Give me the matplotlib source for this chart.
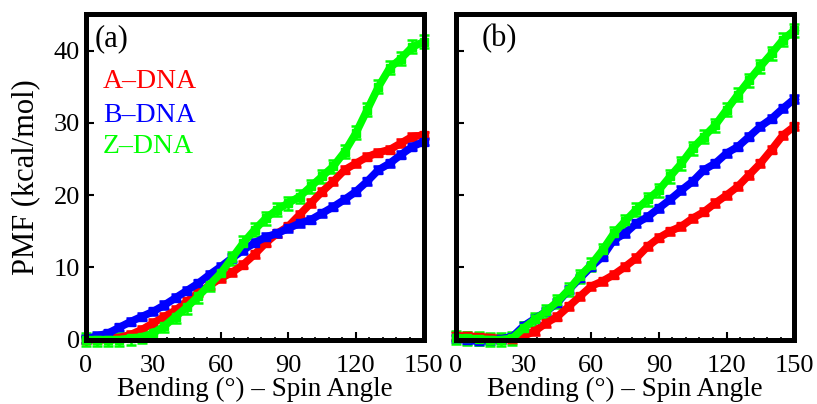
import matplotlib.pyplot as plt
from matplotlib.ticker import MultipleLocator

plt.rcParams['font.family'] = ['Liberation Serif', 'DejaVu Serif']

# bending angle (deg), sampled every 5 degrees
angle = [0, 5, 10, 15, 20, 25, 30, 35, 40, 45, 50, 55, 60, 65, 70, 75,
         80, 85, 90, 95, 100, 105, 110, 115, 120, 125, 130, 135, 140, 145, 150]

# panel (a)
a_adna = [0.0, 0.1, 0.2, 0.3, 0.7, 1.4, 2.3, 3.2, 4.1, 5.3, 6.5, 7.5, 8.5, 9.3, 10.4, 11.8,
          13.4, 14.7, 15.7, 17.3, 18.9, 20.5, 21.9, 23.5, 24.4, 25.3, 25.9, 26.3, 27.2, 28.1, 28.3]
a_bdna = [0.1, 0.5, 0.9, 1.7, 2.5, 3.2, 3.9, 4.8, 5.8, 6.8, 7.8, 9.0, 10.1, 11.3, 12.4, 13.4,
          14.2, 14.7, 15.4, 16.1, 16.6, 17.5, 18.4, 19.4, 20.5, 21.9, 23.5, 24.4, 25.6, 26.7, 27.4]
a_zdna = [0.0, 0.0, 0.0, 0.0, 0.2, 0.4, 0.9, 1.9, 3.2, 4.5, 6.0, 7.6, 9.2, 11.3, 13.4, 15.2,
          16.8, 18.0, 18.9, 19.8, 21.2, 22.6, 24.0, 26.0, 28.6, 31.8, 35.0, 37.6, 38.9, 40.5, 41.2]

# panel (b)
b_adna = [0.5, 0.5, 0.4, 0.3, 0.1, 0.1, 0.5, 1.2, 2.3, 3.2, 4.6, 6.0, 7.4, 8.1, 9.0, 10.1,
          11.3, 12.9, 14.1, 15.0, 15.7, 16.8, 17.7, 18.9, 20.0, 21.2, 22.8, 24.4, 26.3, 28.3, 29.5]
b_bdna = [0.2, -0.1, -0.2, -0.1, 0.1, 0.4, 1.9, 2.9, 3.9, 5.1, 6.9, 8.5, 10.1, 11.5, 13.8, 14.7,
          16.1, 17.0, 18.2, 19.4, 20.7, 21.9, 23.5, 24.4, 25.8, 26.7, 28.1, 29.5, 30.6, 32.0, 33.3]
b_zdna = [0.3, 0.2, 0.1, 0.0, 0.0, 0.2, 1.6, 2.8, 3.9, 5.3, 6.9, 8.8, 10.4, 12.4, 14.7, 16.4,
          18.0, 19.4, 20.7, 22.6, 24.4, 26.5, 28.1, 29.7, 31.8, 33.9, 35.9, 37.8, 39.6, 41.5, 42.8]

# error bar half widths
err_adna = 0.5
err_bdna = 0.5
err_zdna = 0.9

labels = ['A\u2013DNA', 'B\u2013DNA', 'Z\u2013DNA']
colors = ['#ff0000', '#0000ff', '#00ff00']

fig = plt.figure(figsize=(8.17, 4.04), dpi=100)
ax_a = fig.add_axes([0.1048, 0.1592, 0.4136, 0.805])
ax_b = fig.add_axes([0.5581, 0.1592, 0.4140, 0.805])

panels = [
    (ax_a, [a_adna, a_bdna, a_zdna], '(a)', 0.028),
    (ax_b, [b_adna, b_bdna, b_zdna], '(b)', 0.076),
]

for ax, series, tag, tag_x in panels:
    for vals, err, col in zip(series, [err_adna, err_bdna, err_zdna], colors):
        ax.errorbar(angle, vals, yerr=err, fmt='s-', color=col, ms=6, lw=5.5,
                    elinewidth=1.8, capsize=3.5, capthick=1.8, clip_on=False)
    ax.set_xlim(0, 150)
    ax.set_ylim(0, 45)
    ax.xaxis.set_major_locator(MultipleLocator(30))
    ax.xaxis.set_minor_locator(MultipleLocator(6))
    ax.yaxis.set_major_locator(MultipleLocator(10))
    ax.yaxis.set_minor_locator(MultipleLocator(2))
    ax.tick_params(which='both', direction='in', top=False, right=False)
    ax.tick_params(which='major', length=5.5, width=1.5, labelsize=19)
    ax.tick_params(which='minor', length=2, width=1.2)
    ax.tick_params(axis='x', which='major', pad=11)
    ax.tick_params(axis='y', which='major', pad=4)
    for sp in ax.spines.values():
        sp.set_linewidth(3.6)
        sp.set_zorder(5)
    ax.set_xlabel('Bending (\u00b0) \u2013 Spin Angle', fontsize=19.5, labelpad=0)
    ax.text(tag_x, 0.903, tag, transform=ax.transAxes, fontsize=22, va='baseline')

ax_b.tick_params(axis='y', labelleft=False)
ax_a.set_ylabel('PMF (kcal/mol)', fontsize=22, labelpad=10)

for lab, col, yy in zip(labels, colors, [0.773, 0.669, 0.574]):
    ax_a.text(0.0515, yy, lab, color=col, transform=ax_a.transAxes,
              fontsize=20, va='baseline')

fig.savefig('out.png', dpi=100)
